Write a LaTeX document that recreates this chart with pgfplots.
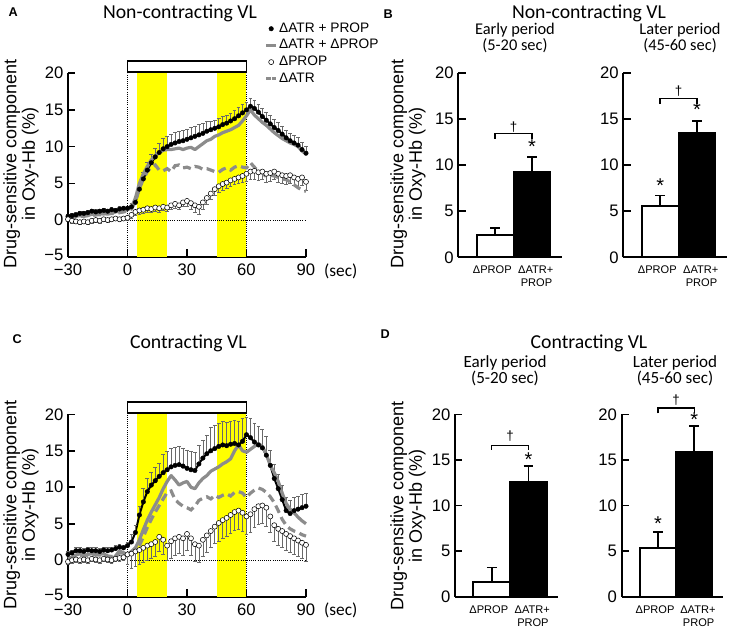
\documentclass[border=0pt]{standalone}
\usepackage{fontspec}
\setmainfont{Liberation Sans}
\newfontfamily\calfont{Carlito}
\usepackage{pgfplots}
\usepackage{pgfplotstable}
\pgfplotsset{compat=1.18}

\definecolor{sgray}{RGB}{140,140,140}
\definecolor{ebar}{RGB}{105,105,105}
\definecolor{hl}{RGB}{255,255,0}

% x blk blke gry dsh wht whte
\pgfplotstableread{
x blk blke gry dsh wht whte
-30 0.5 0.3 0.4 0.3 0.1 0.3
-28 0.6 0.3 0.3 0.4 -0.1 0.3
-26 0.7 0.3 0.5 0.4 -0.2 0.3
-24 0.9 0.3 0.6 0.5 -0.3 0.3
-22 0.9 0.3 0.7 0.5 -0.2 0.3
-20 1.0 0.3 0.6 0.6 -0.3 0.3
-18 1.2 0.3 0.8 0.6 -0.1 0.3
-16 1.1 0.3 0.7 0.7 0.0 0.3
-14 1.2 0.3 0.9 0.7 -0.1 0.3
-12 1.3 0.3 0.8 0.8 0.1 0.3
-10 1.2 0.3 1.0 0.8 0.0 0.3
-8 1.4 0.3 0.9 0.9 0.1 0.3
-6 1.3 0.3 1.1 0.9 0.2 0.3
-4 1.5 0.3 1.2 1.0 0.1 0.3
-2 1.6 0.3 1.3 1.1 0.2 0.3
0 1.6 0.3 1.4 1.2 0.3 0.3
2 1.8 0.5 1.7 1.5 0.7 0.5
4 2.4 0.7 3.0 2.5 1.1 0.5
6 4.2 0.8 5.0 4.3 1.3 0.5
8 5.6 0.9 6.3 5.6 1.4 0.5
10 6.8 1.0 7.3 6.6 1.6 0.5
12 7.8 1.1 8.2 7.2 1.5 0.5
14 8.6 1.2 8.8 7.5 1.7 0.5
16 9.2 1.3 9.2 6.8 1.6 0.5
18 9.7 1.4 9.5 6.7 1.8 0.5
20 10.0 1.4 9.6 7.0 1.7 0.5
22 10.3 1.4 9.6 6.6 2.0 0.5
24 10.5 1.4 9.7 7.4 2.2 0.6
26 10.7 1.4 9.8 7.5 2.0 0.6
28 10.8 1.4 9.6 7.1 2.4 0.6
30 11.0 1.4 9.8 7.2 2.6 0.8
32 11.2 1.4 9.9 7.0 2.3 0.9
34 11.4 1.4 9.6 7.3 2.0 1.0
36 11.6 1.4 10.0 7.2 1.8 1.0
38 11.8 1.4 10.4 6.9 2.4 0.9
40 12.1 1.3 10.8 7.0 3.0 0.8
42 12.3 1.2 11.0 6.8 3.6 0.8
44 12.5 1.1 11.4 6.6 4.2 0.8
46 12.7 1.1 11.6 6.5 4.6 0.8
48 13.0 1.1 11.9 6.9 4.9 0.8
50 13.2 1.1 12.1 7.1 5.1 0.8
52 13.5 1.1 12.3 6.8 5.4 0.8
54 13.8 1.1 12.6 7.2 5.6 0.8
56 14.2 1.1 12.9 7.4 5.8 0.8
58 14.6 1.1 13.5 7.2 6.0 0.8
60 15.0 1.1 14.2 7.1 6.3 1.0
62 15.5 1.1 15.0 7.8 6.6 1.0
64 15.2 1.1 14.3 7.2 6.7 1.1
66 14.7 1.1 13.8 6.6 6.5 1.1
68 14.1 1.1 13.3 6.4 6.6 1.1
70 13.6 1.1 12.9 5.9 6.3 1.1
72 13.1 1.1 12.4 6.1 6.4 1.1
74 12.6 1.1 11.9 6.0 6.6 1.1
76 12.2 1.1 11.5 5.8 6.3 1.1
78 11.7 1.1 11.1 5.6 6.1 1.1
80 11.2 1.0 10.8 5.5 6.0 1.1
82 10.8 1.0 10.5 5.2 6.1 1.1
84 10.5 1.0 10.3 4.8 5.8 1.1
86 10.2 1.0 10.0 4.4 5.6 1.1
88 9.6 1.0 9.4 4.1 5.8 1.1
90 9.1 1.0 9.0 3.9 5.2 1.1
}\tabA

\pgfplotstableread{
x blk blke gry dsh wht whte
-30 0.8 0.4 0.2 0.3 -0.2 0.4
-28 1.0 0.4 0.4 0.4 0.0 0.4
-26 1.3 0.4 0.7 0.6 0.1 0.4
-24 1.3 0.4 0.9 0.7 0.0 0.4
-22 1.2 0.4 0.6 0.6 0.1 0.4
-20 1.4 0.4 0.8 0.7 0.0 0.4
-18 1.3 0.4 0.9 0.8 0.2 0.4
-16 1.3 0.4 0.7 0.8 0.1 0.4
-14 1.2 0.4 0.8 0.7 0.0 0.4
-12 1.4 0.4 0.9 0.8 0.2 0.4
-10 1.3 0.4 0.5 0.6 0.1 0.4
-8 1.4 0.4 0.0 0.5 0.0 0.4
-6 1.6 0.4 0.6 0.7 0.2 0.4
-4 1.8 0.4 1.3 1.0 0.3 0.4
-2 1.7 0.4 1.0 1.0 0.4 0.4
0 2.0 0.5 0.8 0.9 0.8 1.3
2 2.5 1.0 1.2 1.0 0.9 2.0
4 3.8 1.0 1.7 1.5 1.2 2.0
6 6.2 1.2 2.8 2.0 1.4 2.0
8 8.0 1.8 4.2 3.2 1.7 2.0
10 9.4 1.8 5.5 4.5 2.0 2.0
12 10.3 1.8 6.6 5.6 2.2 2.0
14 10.9 1.8 7.6 6.6 2.5 2.0
16 11.5 1.8 8.6 7.5 3.2 2.0
18 12.0 2.5 9.8 8.4 2.8 2.0
20 12.4 2.5 10.8 9.3 2.0 2.0
22 12.8 2.5 11.6 9.5 2.6 2.3
24 13.0 2.5 11.0 8.3 3.0 2.3
26 13.1 2.5 10.3 7.8 3.2 2.3
28 12.9 2.5 10.6 7.4 3.0 2.3
30 12.6 2.5 10.8 7.2 3.6 2.3
32 12.4 2.5 10.0 6.9 3.0 2.3
34 12.3 2.5 9.8 7.4 2.2 2.3
36 13.2 2.5 10.6 8.2 2.0 2.3
38 14.0 2.5 11.2 8.5 2.8 2.3
40 14.6 2.5 11.6 8.7 3.4 2.3
42 15.0 3.2 12.2 8.4 4.0 2.3
44 15.3 3.2 12.5 8.9 4.6 2.3
46 15.6 3.2 12.8 8.6 5.1 2.5
48 15.8 3.2 13.2 8.9 5.5 2.5
50 15.7 3.2 13.5 9.1 5.8 2.5
52 15.9 3.2 13.9 8.8 6.2 2.5
54 16.0 3.2 15.0 9.3 6.6 2.5
56 15.8 3.2 15.8 9.4 6.8 2.5
58 16.3 3.2 15.0 9.2 6.5 2.5
60 17.2 2.4 14.8 8.6 6.0 2.5
62 16.8 2.6 15.2 9.2 6.3 2.5
64 16.2 2.6 15.6 9.6 7.0 2.5
66 15.8 2.6 16.0 9.9 7.4 2.5
68 15.4 2.6 15.6 9.7 7.5 2.5
70 14.4 2.6 14.5 9.3 7.2 2.5
72 13.0 2.0 13.0 8.7 6.0 2.2
74 11.2 2.0 12.0 7.9 4.8 2.2
76 9.8 2.0 10.8 6.8 4.3 2.2
78 8.3 2.0 9.2 5.6 4.0 2.2
80 6.8 1.8 7.8 4.8 3.6 2.2
82 6.4 1.8 7.0 4.3 3.3 2.2
84 6.8 1.8 6.5 4.0 3.0 2.2
86 7.0 1.8 5.9 3.8 2.7 2.2
88 7.2 1.8 5.4 3.5 2.4 2.2
90 7.4 1.8 5.0 3.3 2.1 2.2
}\tabC

\pgfplotsset{
  limg/.style={legend image code/.code={\draw[##1] (0pt,0pt) -- (7.5pt,0pt);}},
  dimg/.style={legend image code/.code={\draw[##1,dash pattern=on 3.3pt off 1.2pt] (0pt,0pt) -- (7.5pt,0pt);}},
  mimg/.style={legend image code/.code={\draw[only marks,mark repeat=2,mark phase=2,##1] plot coordinates {(0pt,0pt)(3.75pt,0pt)(7.5pt,0pt)};}},
  common/.style={scale only axis, anchor=south west, clip=false,
    axis x line*=bottom, axis y line*=left,
    axis line style={line width=1.3pt},
    tick align=inside, major tick length=5.5pt,
    tick style={black, line width=1.2pt},
    /pgf/number format/assume math mode=true,
    tick label style={font=\fontsize{12.5}{14}\selectfont}},
  tsax/.style={common, width=178.5pt,
    xmin=-30, xmax=90, ymin=-5, ymax=20,
    xtick={-30,0,30,60,90}, xticklabels={−30,0,30,60,90},
    ytick={-5,0,5,10,15,20}, yticklabels={\raisebox{3pt}{−5},0,5,10,15,20},
    xticklabel style={yshift=-2pt}},
  barax/.style={common, xmin=0, xmax=2.8, ymin=0, ymax=20,
    xtick=\empty, ytick={0,5,10,15,20}, ybar, bar width=1, bar shift=0pt},
  blkser/.style={black, line width=1.5pt, mark=*, mark size=1.7pt,
    mark options={fill=black, draw=black, line width=0.3pt}, mimg,
    error bars/.cd, y dir=plus, y explicit,
    error bar style={ebar, line width=0.5pt},
    error mark options={rotate=90, ebar, mark size=1.4pt, line width=0.5pt}},
  whtser/.style={only marks, mark=*, mark size=1.9pt, black,
    mark options={fill=white, draw=black, line width=0.4pt}, mimg,
    error bars/.cd, y dir=minus, y explicit,
    error bar style={ebar, line width=0.5pt},
    error mark options={rotate=90, ebar, mark size=1.4pt, line width=0.5pt}},
  gryser/.style={sgray, line width=2.4pt, no marks, line join=round, limg},
  dshser/.style={sgray, line width=2.4pt, no marks, dash pattern=on 6pt off 3.5pt, dimg},
  wbar/.style={fill=white, draw=black, line width=1.4pt,
    error bars/.cd, y dir=plus, y explicit,
    error bar style={black, line width=1.4pt},
    error mark options={rotate=90, black, mark size=3.6pt, line width=1.4pt}},
  bbar/.style={fill=black, draw=black, line width=1.4pt,
    error bars/.cd, y dir=plus, y explicit,
    error bar style={black, line width=1.4pt},
    error mark options={rotate=90, black, mark size=3.6pt, line width=1.4pt}},
}

\newcommand\tsdecor{%
  \fill[hl] (axis cs:5,-5) rectangle (axis cs:20,20);
  \fill[hl] (axis cs:45,-5) rectangle (axis cs:60,20);
  \draw[densely dotted, line width=0.6pt] (axis cs:0,-5) -- (axis cs:0,20);
  \draw[densely dotted, line width=0.6pt] (axis cs:60,-5) -- (axis cs:60,20);
  \draw[densely dotted, line width=0.6pt] (axis cs:0,0) -- (axis cs:90,0);
  \draw[line width=1.2pt, fill=white] (axis cs:0,20.15) rectangle (axis cs:60,21.7);
}
\newcommand\barlabels{%
  \node[anchor=base, font=\fontsize{8.3}{10}\selectfont, yshift=-12.5pt] at (axis cs:0.92,0) {ΔPROP};
  \node[anchor=base, font=\fontsize{8.3}{10}\selectfont, yshift=-12.5pt] at (axis cs:2.1,0) {ΔATR+};
  \node[anchor=base, font=\fontsize{8.3}{10}\selectfont, yshift=-22pt] at (axis cs:2.12,0) {PROP};
}
\newcommand\sigbr[3]{% bracket y, leg y, dagger y
  \draw[line width=1.1pt] (axis cs:1,#2) -- (axis cs:1,#1) -- (axis cs:2,#1) -- (axis cs:2,#2);
  \node[font=\fontsize{10}{10}\selectfont] at (axis cs:1.5,#3) {†};
}
\newcommand\sigstar[2]{\node[font=\fontsize{15}{15}\selectfont] at (axis cs:#1,#2) {*};}

\begin{document}
\begin{tikzpicture}
\begin{scope}[x=0.75pt,y=-0.75pt]
\useasboundingbox (0,0) rectangle (736,631);
\coordinate (oA) at (68,256.7);
\coordinate (oC) at (68,596.7);
\coordinate (oB1) at (458.3,257.3);
\coordinate (oB2) at (623.3,257.3);
\coordinate (oD1) at (455,596.7);
\coordinate (oD2) at (621.7,596.7);
% panel letters and titles
\node[anchor=base west, font=\bfseries\fontsize{9.5}{10}\selectfont] at (4,16.7) {A};
\node[anchor=base, font=\calfont\fontsize{14.8}{16}\selectfont] at (180,18.3) {Non-contracting VL};
\node[rotate=90, align=center, font=\fontsize{13.5}{14}\selectfont] at (21,164) {Drug-sensitive component\\in Oxy-Hb (\%)};
\node[anchor=base west, font=\calfont\fontsize{13}{15}\selectfont] at (319.5,276.7) {(sec)};

\node[anchor=base west, font=\bfseries\fontsize{9.5}{10}\selectfont] at (379,18.3) {B};
\node[anchor=base, font=\calfont\fontsize{14.8}{16}\selectfont] at (589,18.3) {Non-contracting VL};
\node[anchor=base, font=\calfont\fontsize{12.3}{14}\selectfont] at (515,35) {Early period};
\node[anchor=base, font=\calfont\fontsize{12.3}{14}\selectfont] at (515,50.7) {(5-20 sec)};
\node[anchor=base, font=\calfont\fontsize{12.3}{14}\selectfont] at (680,35) {Later period};
\node[anchor=base, font=\calfont\fontsize{12.3}{14}\selectfont] at (680,50.7) {(45-60 sec)};
\node[rotate=90, align=center, font=\fontsize{13.5}{14}\selectfont] at (408,164) {Drug-sensitive component\\in Oxy-Hb (\%)};

\node[anchor=base west, font=\bfseries\fontsize{9.5}{10}\selectfont] at (8,344) {C};
\node[anchor=base, font=\calfont\fontsize{14.8}{16}\selectfont] at (188.3,348.3) {Contracting VL};
\node[rotate=90, align=center, font=\fontsize{13.5}{14}\selectfont] at (21,505) {Drug-sensitive component\\in Oxy-Hb (\%)};
\node[anchor=base west, font=\calfont\fontsize{13}{15}\selectfont] at (319.5,615) {(sec)};

\node[anchor=base west, font=\bfseries\fontsize{9.5}{10}\selectfont] at (376,338) {D};
\node[anchor=base, font=\calfont\fontsize{14.8}{16}\selectfont] at (589,348) {Contracting VL};
\node[anchor=base, font=\calfont\fontsize{12.8}{14}\selectfont] at (505,367.3) {Early period};
\node[anchor=base, font=\calfont\fontsize{12.8}{14}\selectfont] at (505,383.3) {(5-20 sec)};
\node[anchor=base, font=\calfont\fontsize{12.8}{14}\selectfont] at (675,367.3) {Later period};
\node[anchor=base, font=\calfont\fontsize{12.8}{14}\selectfont] at (675,383.3) {(45-60 sec)};
\node[rotate=90, align=center, font=\fontsize{13.5}{14}\selectfont] at (408,506) {Drug-sensitive component\\in Oxy-Hb (\%)};
\end{scope}

% ---- A: non-contracting time course
\begin{axis}[tsax, at={(oA)}, height=137.6pt,
  legend style={at={(0.825,1.285)}, anchor=north west, draw=none, fill=none,
    inner sep=0pt, font=\fontsize{10.3}{11}\selectfont, row sep=1.2pt,
    nodes={inner sep=1pt, text height=7.3pt, text depth=2pt}},
  legend cell align=left]
\tsdecor
\addplot[blkser] table[x=x, y=blk, y error plus=blke]{\tabA};
\addlegendentry{ΔATR + PROP}
\addplot[gryser] table[x=x, y=gry]{\tabA};
\addlegendentry{ΔATR + ΔPROP}
\addplot[whtser] table[x=x, y=wht, y error minus=whte]{\tabA};
\addlegendentry{ΔPROP}
\addplot[dshser] table[x=x, y=dsh]{\tabA};
\addlegendentry{ΔATR}
\end{axis}

% ---- C: contracting time course
\begin{axis}[tsax, at={(oC)}, height=136.8pt]
\tsdecor
\addplot[blkser] table[x=x, y=blk, y error plus=blke]{\tabC};
\addplot[gryser] table[x=x, y=gry]{\tabC};
\addplot[whtser] table[x=x, y=wht, y error minus=whte]{\tabC};
\addplot[dshser] table[x=x, y=dsh]{\tabC};
\end{axis}

% ---- B: early / later, non-contracting
\begin{axis}[barax, at={(oB1)}, width=77.5pt, height=138.4pt]
\addplot[wbar] coordinates {(1,2.4) +- (0,0.8)};
\addplot[bbar] coordinates {(2,9.2) +- (0,1.65)};
\barlabels
\sigbr{13.4}{12.85}{14.1}
\sigstar{2}{12.0}
\end{axis}
\begin{axis}[barax, at={(oB2)}, width=77.5pt, height=138.4pt]
\addplot[wbar] coordinates {(1,5.6) +- (0,1.1)};
\addplot[bbar] coordinates {(2,13.5) +- (0,1.3)};
\barlabels
\sigbr{17.2}{16.6}{18.0}
\sigstar{1}{7.8}
\sigstar{2}{16.0}
\end{axis}

% ---- D: early / later, contracting
\begin{axis}[barax, at={(oD1)}, width=77.2pt, height=136.8pt]
\addplot[wbar] coordinates {(1,1.65) +- (0,1.55)};
\addplot[bbar] coordinates {(2,12.6) +- (0,1.7)};
\barlabels
\sigbr{16.6}{16.1}{17.6}
\sigstar{2}{15.0}
\end{axis}
\begin{axis}[barax, at={(oD2)}, width=76.2pt, height=136.8pt]
\addplot[wbar] coordinates {(1,5.3) +- (0,1.8)};
\addplot[bbar] coordinates {(2,15.9) +- (0,2.8)};
\barlabels
\sigbr{20.7}{20.1}{21.6}
\sigstar{1}{8.05}
\sigstar{2}{19.45}
\end{axis}
\end{tikzpicture}
\end{document}
